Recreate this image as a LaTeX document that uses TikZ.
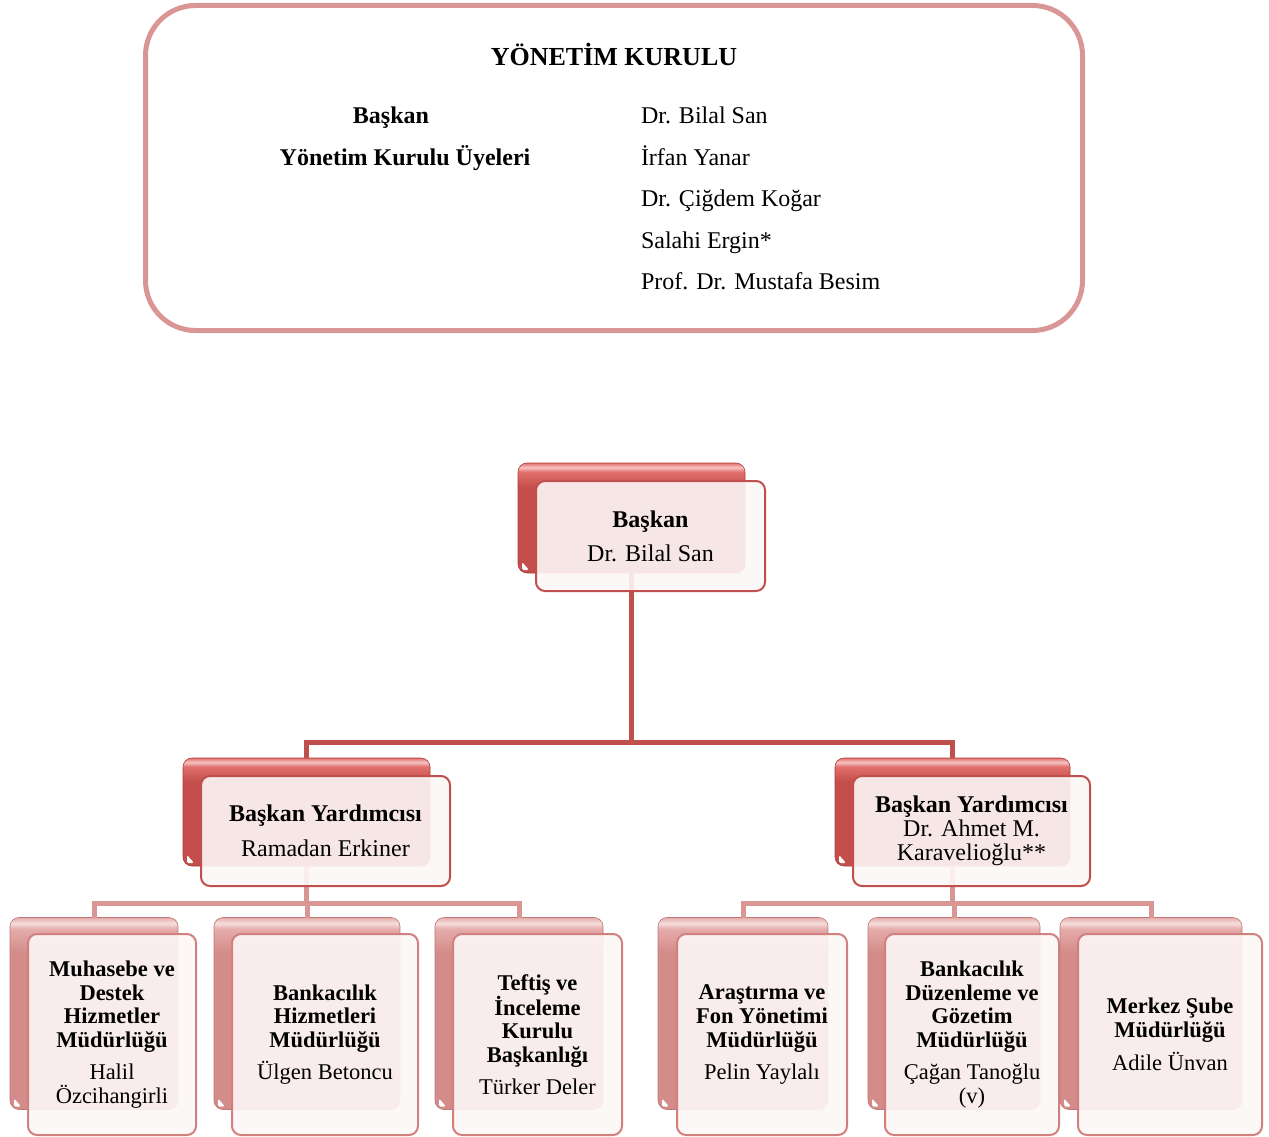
\documentclass[tikz,border=0pt]{standalone}
\usepackage{fontspec}
\setmainfont{Liberation Serif}
\definecolor{conRed}{RGB}{192,80,77}
\definecolor{conPink}{RGB}{217,150,148}
\definecolor{redB}{RGB}{196,78,76}
\definecolor{redA}{RGB}{226,112,110}
\definecolor{redHi}{RGB}{246,196,194}
\definecolor{redEdge}{RGB}{170,60,58}
\definecolor{pinkB}{RGB}{212,140,138}
\definecolor{pinkA}{RGB}{228,172,170}
\definecolor{pinkHi}{RGB}{246,222,221}
\definecolor{pinkEdge}{RGB}{190,120,118}
\definecolor{frontFill}{RGB}{253,247,247}
\definecolor{frontPink}{RGB}{210,128,126}
\pgfdeclareverticalshading{redbevel}{100bp}{color(0bp)=(redB); color(25bp)=(redB); color(64bp)=(redB); color(71bp)=(redA); color(73bp)=(redHi); color(75bp)=(redA); color(100bp)=(redA)}
\pgfdeclareverticalshading{pinkbevel}{100bp}{color(0bp)=(pinkB); color(25bp)=(pinkB); color(66bp)=(pinkB); color(72bp)=(pinkA); color(73.5bp)=(pinkHi); color(75bp)=(pinkA); color(100bp)=(pinkA)}
\begin{document}
\begin{tikzpicture}[x=1pt,y=-1pt,
  every node/.style={inner sep=0pt,outer sep=0pt},
  backA/.style={rectangle,rounded corners=9pt,shade,shading=redbevel,draw=redEdge,line width=0.6pt},
  backB/.style={rectangle,rounded corners=9pt,shade,shading=pinkbevel,draw=pinkEdge,line width=0.6pt},
  frontA/.style={rectangle,rounded corners=9pt,fill=frontFill,fill opacity=0.9,text opacity=1,draw=conRed,line width=2pt,align=center,font=\fontsize{24}{24}\selectfont},
  frontB/.style={rectangle,rounded corners=9pt,fill=frontFill,fill opacity=0.9,text opacity=1,draw=frontPink,line width=2pt,align=center,font=\fontsize{22.5}{23.6}\selectfont},
  conA/.style={draw=conRed,line width=5pt},
  conB/.style={draw=conPink,line width=5pt},
  notch/.style={fill=white,rounded corners=1.5pt},
  boardtxt/.style={font=\fontsize{24}{24}\selectfont,anchor=base}
]
\useasboundingbox (0,0) rectangle (1269,1137);

% board of directors box
\node[draw=conPink,line width=5pt,rounded corners=50pt,minimum width=937pt,minimum height=325pt] (board) at (614,168) {};
\node[boardtxt,font=\fontsize{26}{26}\selectfont\bfseries] (title) at (614,66) {YÖNETİM KURULU};
\node[boardtxt] (lab1) at (391,124) {\textbf{Başkan}};
\node[boardtxt] (lab2) at (405,165) {\textbf{Yönetim Kurulu Üyeleri}};
\node[boardtxt,anchor=base west] (m1) at (641,124) {Dr. Bilal San};
\node[boardtxt,anchor=base west] (m2) at (641,165) {İrfan Yanar};
\node[boardtxt,anchor=base west] (m3) at (641,206) {Dr. Çiğdem Koğar};
\node[boardtxt,anchor=base west] (m4) at (641,248) {Salahi Ergin*};
\node[boardtxt,anchor=base west] (m5) at (641,289) {Prof. Dr. Mustafa Besim};

% back boxes
\node[backA,minimum width=227pt,minimum height=110pt] (pb) at (631.5,518) {};
\node[backA,minimum width=247pt,minimum height=108pt] (lb) at (306.5,812) {};
\node[backA,minimum width=235pt,minimum height=108pt] (rb) at (952.5,812) {};
\node[backB,minimum width=168pt,minimum height=192pt] (c1b) at (94,1013.5) {};
\node[backB,minimum width=186pt,minimum height=192pt] (c2b) at (307,1013.5) {};
\node[backB,minimum width=168pt,minimum height=192pt] (c3b) at (519,1013.5) {};
\node[backB,minimum width=170pt,minimum height=192pt] (c4b) at (743,1013.5) {};
\node[backB,minimum width=172pt,minimum height=192pt] (c5b) at (954,1013.5) {};
\node[backB,minimum width=182pt,minimum height=192pt] (c6b) at (1151,1013.5) {};

% connectors
\coordinate (bus1) at (0,742);
\coordinate (bus2) at (0,903);
\draw[conA] (pb.south) -- (pb.south |- bus1) -| (lb.north);
\draw[conA] (pb.south |- bus1) -| (rb.north);
\draw[conB] (lb.south) -- (lb.south |- bus2) -| (c1b.north);
\draw[conB] (lb.south |- bus2) -| (c2b.north);
\draw[conB] (lb.south |- bus2) -| (c3b.north);
\draw[conB] (rb.south) -- (rb.south |- bus2) -| (c4b.north);
\draw[conB] (rb.south |- bus2) -| (c5b.north);
\draw[conB] (rb.south |- bus2) -| (c6b.north);

% page-curl notches
\foreach \b in {pb,lb,rb,c1b,c2b,c3b,c4b,c5b,c6b}{
  \fill[notch] ([xshift=4pt,yshift=3pt]\b.south west) -- ++(7,0) -- ++(-7,-8) -- cycle;
}

% front boxes
\node[frontA,minimum width=229pt,minimum height=110pt] (pf) at (650.5,536) {\textbf{Başkan}\\[10pt]Dr. Bilal San};
\node[frontA,minimum width=249pt,minimum height=110pt] (lf) at (325.5,831) {\textbf{Başkan Yardımcısı}\\[11pt]Ramadan Erkiner};
\node[frontA,minimum width=237pt,minimum height=110pt] (rf) at (971.5,831) {\textbf{Başkan Yardımcısı}\\Dr. Ahmet M.\\Karavelioğlu**};

\node[frontB,minimum width=168pt,minimum height=201pt] (c1f) at (112,1034.5) {\textbf{Muhasebe ve}\\\textbf{Destek}\\\textbf{Hizmetler}\\\textbf{Müdürlüğü}\\[8.4pt]Halil\\Özcihangirli};
\node[frontB,minimum width=186pt,minimum height=201pt] (c2f) at (325,1034.5) {\textbf{Bankacılık}\\\textbf{Hizmetleri}\\\textbf{Müdürlüğü}\\[8.4pt]Ülgen Betoncu};
\node[frontB,minimum width=169pt,minimum height=201pt] (c3f) at (537.5,1034.5) {\textbf{Teftiş ve}\\\textbf{İnceleme}\\\textbf{Kurulu}\\\textbf{Başkanlığı}\\[8.4pt]Türker Deler};
\node[frontB,minimum width=170pt,minimum height=201pt] (c4f) at (762,1034.5) {\textbf{Araştırma ve}\\\textbf{Fon Yönetimi}\\\textbf{Müdürlüğü}\\[8.4pt]Pelin Yaylalı};
\node[frontB,minimum width=174pt,minimum height=201pt] (c5f) at (972,1034.5) {\textbf{Bankacılık}\\\textbf{Düzenleme ve}\\\textbf{Gözetim}\\\textbf{Müdürlüğü}\\[8.4pt]Çağan Tanoğlu\\(v)};
\node[frontB,minimum width=184pt,minimum height=201pt] (c6f) at (1170,1034.5) {\textbf{Merkez Şube}\\\textbf{Müdürlüğü}\\[9.4pt]Adile Ünvan};
\end{tikzpicture}
\end{document}
